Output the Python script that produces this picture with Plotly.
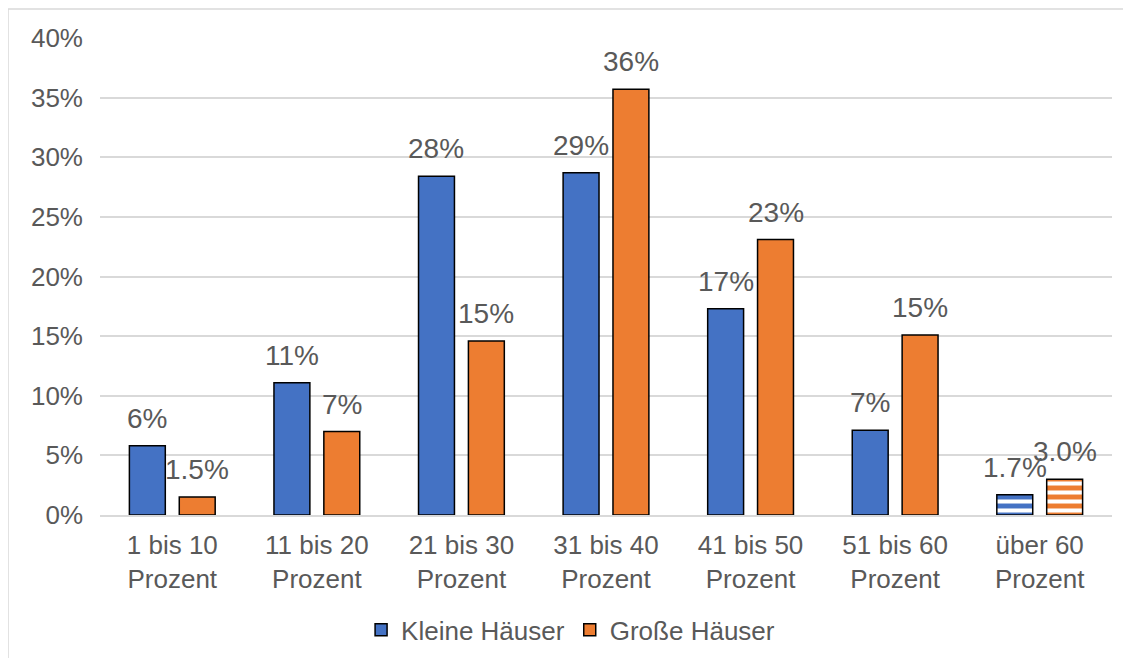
import plotly.graph_objects as go

categories = ["1 bis 10<br>Prozent", "11 bis 20<br>Prozent", "21 bis 30<br>Prozent",
              "31 bis 40<br>Prozent", "41 bis 50<br>Prozent", "51 bis 60<br>Prozent",
              "über 60<br>Prozent"]
kleine = [5.8, 11.1, 28.4, 28.7, 17.3, 7.1, 1.7]
kleine_labels = ["6%", "11%", "28%", "29%", "17%", "7%", "1.7%"]
grosse = [1.5, 7.0, 14.6, 35.7, 23.1, 15.1, 3.0]
grosse_labels = ["1.5%", "7%", "15%", "36%", "23%", "15%", "3.0%"]

BLUE = "#4472c4"
ORANGE = "#ed7d31"
TXT = "#595959"
FONT = "Liberation Sans, Arial, sans-serif"

# last category is drawn with white horizontal stripes
stripes = [""] * 6 + ["-"]

fig = go.Figure()
series = [("Kleine Häuser", kleine, kleine_labels, BLUE, -25),
          ("Große Häuser", grosse, grosse_labels, ORANGE, 25)]
for name, vals, labels, color, shift in series:
    fig.add_trace(go.Bar(
        x=categories, y=vals, name=name,
        marker=dict(color=color, line=dict(color="black", width=1.5),
                    pattern=dict(shape=stripes, fillmode="overlay", fgcolor="white",
                                 fgopacity=1, size=9, solidity=0.45)),
    ))
    # data labels sit a little higher above the bars than plotly's outside text
    for cat, v, lab in zip(categories, vals, labels):
        fig.add_annotation(x=cat, y=v, text=lab, showarrow=False,
                           xshift=shift, yshift=10, yanchor="bottom",
                           font=dict(size=28, color=TXT, family=FONT))

# outer chart frame (page is offset by the 8px body margin), runs off right/bottom
fig.add_shape(type="rect", xref="paper", yref="paper",
              x0=-0.0909, x1=1.05, y0=-0.35, y1=1.0608,
              line=dict(color="#d9d9d9", width=1.5), layer="below")

fig.update_layout(
    width=1123, height=650,
    margin=dict(l=92, r=19, t=30, b=143, autoexpand=False),
    plot_bgcolor="white", paper_bgcolor="white",
    barmode="group", bargap=0.31, bargroupgap=0.28,
    font=dict(family=FONT, color=TXT, size=26),
    legend=dict(orientation="h", x=0.465, xanchor="center", y=-0.241, yanchor="middle",
                font=dict(size=26, color=TXT), itemwidth=30, traceorder="normal"),
    showlegend=True,
)
fig.update_yaxes(range=[0, 40], dtick=5, ticksuffix="%", gridcolor="#d9d9d9",
                 gridwidth=1.5, zeroline=False, showline=False, automargin=False,
                 tickfont=dict(size=26, color=TXT), ticks="", ticklabelstandoff=16)
fig.update_xaxes(showline=True, linecolor="#d9d9d9", linewidth=1.5, ticks="",
                 automargin=False,
                 tickfont=dict(size=26, color=TXT), ticklabelstandoff=6)

fig.write_html("out.html")
